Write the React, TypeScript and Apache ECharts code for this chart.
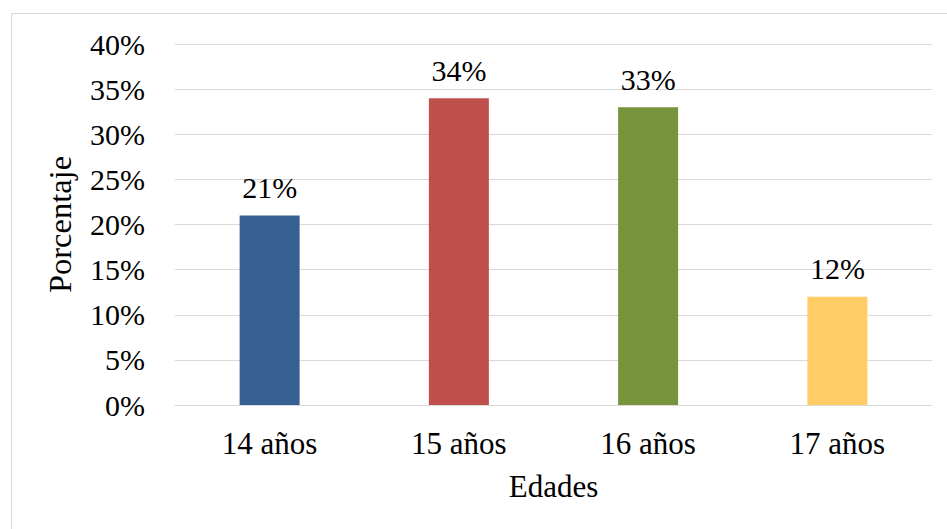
import React, { useEffect, useRef } from "react";
import * as echarts from "echarts";

const categories = ["14 años", "15 años", "16 años", "17 años"];
const values = [21, 34, 33, 12];
const barColors = ["#376092", "#C0504D", "#77933C", "#FFCC66"];
const yTicks = { min: 0, max: 40, interval: 5 };

export default function App() {
  const ref = useRef<HTMLDivElement>(null);
  useEffect(() => {
    if (!ref.current) return;
    const chart = echarts.init(ref.current, null, { renderer: "svg" });
    const font = "'Liberation Serif', 'Times New Roman', serif";
    chart.setOption({
      animation: false,
      backgroundColor: "#ffffff",
      graphic: [
        {
          type: "rect",
          shape: { x: 11.5, y: 13.5, width: 940, height: 540 },
          style: { fill: "none", stroke: "#d9d9d9", lineWidth: 1 },
          silent: true,
          z: -1,
        },
      ],
      grid: { left: 175, right: 15, top: 44, bottom: 124, containLabel: false },
      xAxis: {
        type: "category",
        data: categories,
        name: "Edades",
        nameLocation: "middle",
        nameGap: 66,
        nameTextStyle: { fontFamily: font, fontSize: 31, color: "#000" },
        axisLine: { show: true, lineStyle: { color: "#d9d9d9", width: 1 } },
        axisTick: { show: false },
        axisLabel: { fontFamily: font, fontSize: 31, color: "#000", margin: 23 },
      },
      yAxis: {
        type: "value",
        min: yTicks.min,
        max: yTicks.max,
        interval: yTicks.interval,
        name: "Porcentaje",
        nameLocation: "middle",
        nameGap: 99,
        nameRotate: 90,
        nameTextStyle: { fontFamily: font, fontSize: 32.5, color: "#000" },
        axisLine: { show: false },
        axisTick: { show: false },
        splitLine: { lineStyle: { color: "#d9d9d9", width: 1 } },
        axisLabel: {
          fontFamily: font,
          fontSize: 30,
          color: "#000",
          margin: 30,
          formatter: (v: number) => v + "%",
        },
      },
      series: [
        {
          type: "bar",
          barWidth: "31.7%",
          data: values.map((v, i) => ({ value: v, itemStyle: { color: barColors[i] } })),
          label: {
            show: true,
            position: "top",
            distance: 13,
            fontFamily: font,
            fontSize: 30,
            color: "#000",
            formatter: (p: any) => p.value + "%",
          },
        },
      ],
    });
    return () => chart.dispose();
  }, []);
  return (
    <div
      ref={ref}
      style={{ position: "fixed", left: 0, top: 0, width: 947, height: 529 }}
    />
  );
}
